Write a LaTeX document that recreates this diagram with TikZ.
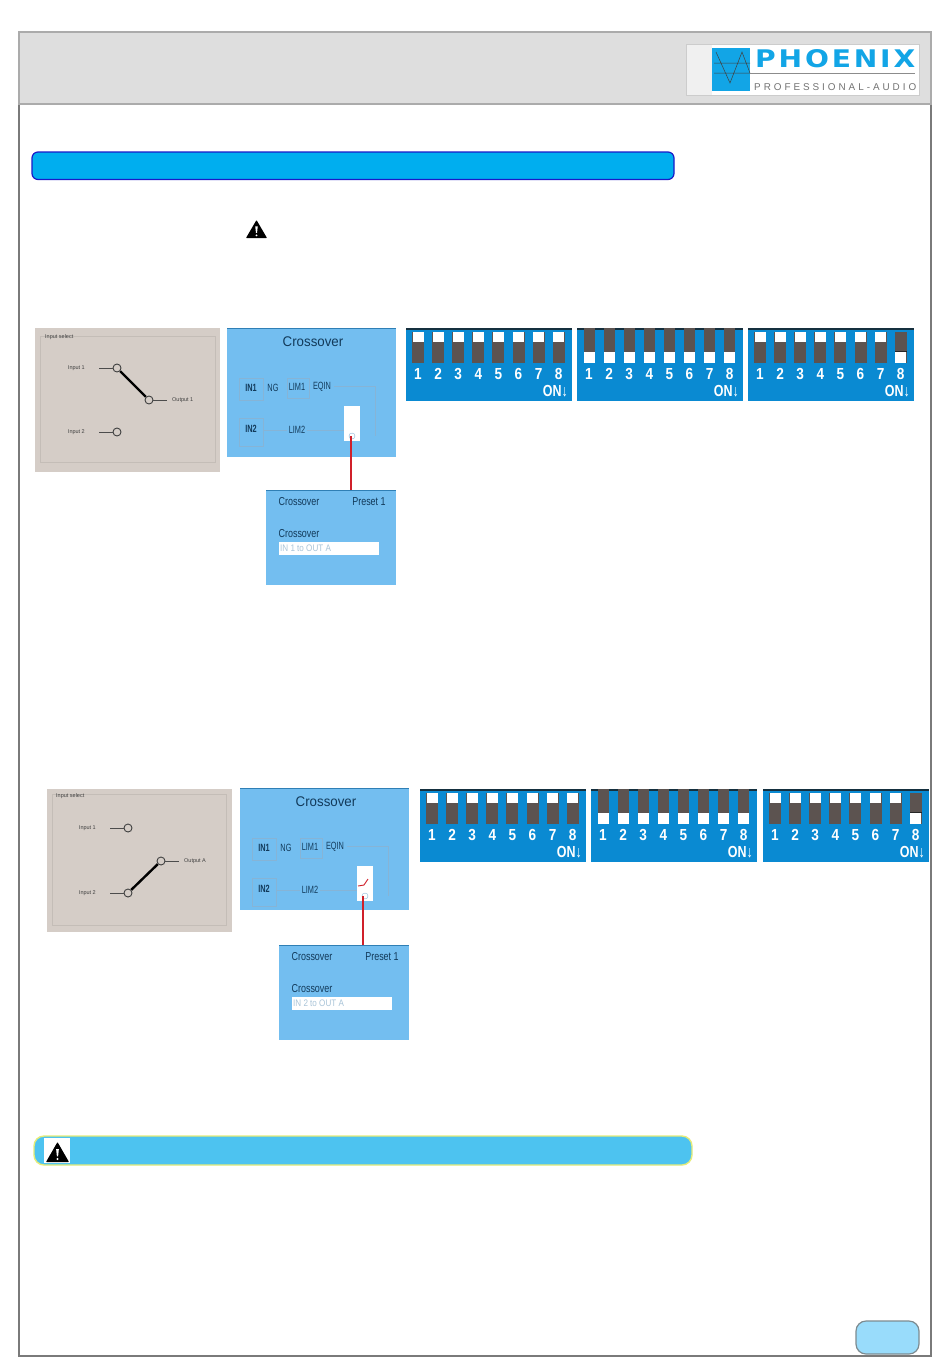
\documentclass[tikz,border=0pt]{standalone}
\usepackage{graphicx}
\usepackage{fontspec}
\setmainfont{Liberation Sans}
\newfontfamily\logofont{DejaVu Sans}
\definecolor{pageline}{HTML}{7A7A7A}
\definecolor{headfill}{HTML}{DEDEDE}
\definecolor{headline}{HTML}{ABABAB}
\definecolor{logoblue}{HTML}{12A5E6}
\definecolor{barblue}{HTML}{00AEEF}
\definecolor{barline}{HTML}{1A1AC8}
\definecolor{warnblue}{HTML}{4DC3F0}
\definecolor{warnline}{HTML}{E6EC78}
\definecolor{pillfill}{HTML}{99DCFB}
\definecolor{pillline}{HTML}{7D8B90}
\definecolor{dipblue}{HTML}{0A8AD2}
\definecolor{dipdark}{HTML}{5C5350}
\definecolor{dipedge}{HTML}{15303F}
\definecolor{scrblue}{HTML}{73BEF0}
\definecolor{scredge}{HTML}{2F7FB5}
\definecolor{scrline}{HTML}{86B4D6}
\definecolor{scrtext}{HTML}{123A5A}
\definecolor{grayscr}{HTML}{D5CDC7}
\definecolor{grayframe}{HTML}{C4BDB7}
\definecolor{fieldtext}{HTML}{A9C4D8}
\definecolor{linkred}{HTML}{D0202A}
\newcommand{\slim}[2]{\scalebox{#1}[1]{#2}}
\tikzset{
  x=1pt,y=-1pt,
  box/.style={draw=none,inner sep=0pt,outer sep=0pt,anchor=north west},
  scrlabel/.style={inner sep=0pt,text=scrtext,font=\fontsize{10.5}{10.5}\selectfont},
  scrbig/.style={inner sep=0pt,text=scrtext,font=\fontsize{14}{14}\selectfont},
  tinylabel/.style={inner sep=0pt,text=black!75,font=\fontsize{5.5}{5.5}\selectfont},
  pivot/.style={circle,draw=black!75,fill=grayscr,line width=.9pt,minimum size=8pt,inner sep=0pt},
  stub/.style={draw=black!70,line width=1pt},
  arm/.style={draw=black,line width=2.4pt},
  redlink/.style={color=linkred,line width=1.2pt},
  faint/.style={draw=scrline,line width=.4pt},
  digit/.style={inner sep=0pt,text=white,font=\fontsize{16}{16}\selectfont\bfseries},
}
% rectangle node from pixel corners
\newcommand{\pxbox}[6]{\node[box,#6,minimum width={(#4)-(#2)},minimum height={(#5)-(#3)}] (#1) at (#2,#3) {};}
% DIP panel: name, left, top, states (0 up, 1 down full, 2 down short)
\newcommand{\dippanel}[4]{%
  \pxbox{#1}{#2}{#3}{#2+166}{#3+73}{fill=dipblue}
  \fill[dipedge] (#2,#3) rectangle (#2+166,#3+1.5);
  \foreach \s [count=\i] in {#4}{
    \pgfmathsetmacro{\cx}{#2+12+20.1*(\i-1)}
    \ifnum\s=0
      \fill[dipdark] (\cx-6,#3+4) rectangle (\cx+6,#3+35);
      \fill[white] (\cx-5.5,#3+4) rectangle (\cx+5.5,#3+14);
    \fi
    \ifnum\s=1
      \fill[dipdark] (\cx-5.5,#3+0) rectangle (\cx+5.5,#3+35);
      \fill[white] (\cx-5.5,#3+24) rectangle (\cx+5.5,#3+35);
    \fi
    \ifnum\s=2
      \fill[dipdark] (\cx-6,#3+4) rectangle (\cx+6,#3+35);
      \fill[black!85] (\cx-6,#3+22.5) rectangle (\cx+6,#3+24);
      \fill[white] (\cx-5.5,#3+24) rectangle (\cx+5.5,#3+35);
    \fi
    \node[digit,anchor=base] (#1-d\i) at (\cx,#3+51) {\slim{.85}{\i}};
  }
  \node[digit,anchor=base east] (#1-on) at (#2+162,#3+68) {\slim{.78}{ON↓}};
}
% warning triangle: name, centre x, top y, half width, height
\newcommand{\warn}[5]{%
  \coordinate (#1) at (#2,#3);
  \fill[black,rounded corners=.6pt] (#2,#3) -- (#2+#4,#3+#5) -- (#2-#4,#3+#5) -- cycle;
  \fill[white] (#2-.12*#4,#3+.35*#5) -- (#2+.12*#4,#3+.35*#5) -- (#2+.05*#4,#3+.72*#5) -- (#2-.05*#4,#3+.72*#5) -- cycle;
  \fill[white] (#2,#3+.85*#5) circle (.1*#4);
}
% crossover screens: suffix, left, top, bottom, lower left, lower top, line x, field text
\newcommand{\xover}[8]{%
  \pxbox{top#1}{#2}{#3}{#2+169}{#4}{fill=scrblue}
  \fill[scredge] (#2,#3) rectangle (#2+169,#3+1.2);
  \node[scrbig] (title#1) at (#2+86,#3+14) {\slim{.95}{Crossover}};
  \draw[faint] (#2+12,#3+50) rectangle (#2+36,#3+72);
  \draw[faint] (#2+12,#3+90) rectangle (#2+36,#3+118);
  \draw[faint] (#2+60,#3+50) rectangle (#2+82,#3+70);
  \draw[faint] (#2+36,#3+102) -- (#2+60,#3+102);
  \draw[faint] (#2+80,#3+102) -- (#2+117,#3+102);
  \draw[faint] (#2+107,#3+58) -- (#2+148,#3+58) -- (#2+148,#3+108);
  \node[scrlabel] (in1#1) at (#2+24,#3+60) {\slim{.7}{\bfseries IN1}};
  \node[scrlabel] (ng#1) at (#2+46,#3+60) {\slim{.7}{NG}};
  \node[scrlabel] (lima#1) at (#2+70,#3+59) {\slim{.7}{LIM1}};
  \node[scrlabel] (eq#1) at (#2+95,#3+59) {\slim{.7}{EQIN}};
  \node[scrlabel] (in2#1) at (#2+24,#3+101) {\slim{.7}{\bfseries IN2}};
  \node[scrlabel] (limb#1) at (#2+70,#3+102) {\slim{.7}{LIM2}};
  \pxbox{sel#1}{#2+117}{#3+78}{#2+133}{#3+113}{fill=white}
  \draw[faint] (#2+125,#3+108) circle (3);
  \pxbox{low#1}{#5}{#6}{#5+130}{#6+94.5}{fill=scrblue}
  \fill[scredge] (#5,#6) rectangle (#5+130,#6+1.2);
  \node[scrlabel,font=\fontsize{11.5}{11.5}\selectfont] (ca#1) at (#5+33,#6+12) {\slim{.78}{Crossover}};
  \node[scrlabel,font=\fontsize{11.5}{11.5}\selectfont] (pr#1) at (#5+103,#6+12) {\slim{.78}{Preset 1}};
  \node[scrlabel,font=\fontsize{11.5}{11.5}\selectfont] (cb#1) at (#5+33,#6+44) {\slim{.78}{Crossover}};
  \pxbox{field#1}{#5+13}{#6+52}{#5+113}{#6+65}{fill=white}
  \node[scrlabel,anchor=west,text=fieldtext,font=\fontsize{9.5}{10}\selectfont] (ft#1) at (#5+14,#6+58.5) {\slim{.85}{#8}};
  \coordinate (linka#1) at (#7,#3+108);
  \coordinate (linkb#1) at (#7,#6);
  \draw[redlink] (linka#1) -- (linkb#1);
}
\begin{document}
\begin{tikzpicture}
\useasboundingbox (0,0) rectangle (950,1369);
\fill[white] (0,0) rectangle (950,1369);
% page frame
\node[box,draw=pageline,line width=1.2pt,minimum width=912pt,minimum height=1324pt] (page) at (19,32) {};
\node[box,fill=headfill,draw=headline,line width=2pt,minimum width=912pt,minimum height=72pt] (header) at (19,32) {};
% logo
\pxbox{logo}{686}{44}{919}{95}{fill=white,draw=black!20,line width=.8pt}
\fill[black!6] (686.5,44.5) rectangle (712,94.5);
\pxbox{logosq}{712}{48}{750}{91}{fill=logoblue}
\draw[black!75,line width=.5pt] (714,63) -- (750,63) (714,73) -- (750,73) (716,52) -- (730,83) -- (742,52) -- (750,73);
\draw[black!45,line width=.7pt] (750,73) -- (915,73);
\node[inner sep=0pt,anchor=west,text=logoblue] (phoenix) at (755,58.5) {\resizebox{160pt}{18pt}{\logofont\addfontfeature{LetterSpace=10}\bfseries PHOENIX}};
\node[inner sep=0pt,anchor=west,text=black!55] (proaudio) at (754,87.5) {\resizebox{162pt}{!}{\addfontfeature{LetterSpace=30}PROFESSIONAL-AUDIO}};
% section bar
\node[box,fill=barblue,draw=barline,line width=1.2pt,rounded corners=6pt,minimum width=642pt,minimum height=27.5pt] (bar) at (32,152) {};
\warn{warna}{256.5}{220}{10.5}{18}
% row 1
\pxbox{sw}{35}{328}{220}{472}{fill=grayscr}
\draw[grayframe,line width=1pt] (40,336) rectangle (215,462);
\node[tinylabel,anchor=west] (swt) at (45,337) {Input select};
\node[tinylabel,anchor=east] (swi) at (85,368) {Input 1};
\node[tinylabel,anchor=east] (swj) at (85,432) {Input 2};
\node[tinylabel,anchor=west] (swo) at (172,400) {Output 1};
\node[pivot] (swa) at (117,368) {};
\node[pivot] (swb) at (117,432) {};
\node[pivot] (swc) at (149,400) {};
\draw[stub] (swa.west) -- ++(-14,0);
\draw[stub] (swb.west) -- ++(-14,0);
\draw[stub] (swc.east) -- ++(14,0);
\draw[arm] (swa) -- (swc);
\xover{A}{227}{328}{457}{266}{490}{351}{IN 1 to OUT A}
\dippanel{da}{406}{328}{0,0,0,0,0,0,0,0}
\dippanel{db}{577}{328}{1,1,1,1,1,1,1,1}
\dippanel{dc}{748}{328}{0,0,0,0,0,0,0,2}
% row 2
\pxbox{tw}{47}{789}{232}{932}{fill=grayscr}
\draw[grayframe,line width=1pt] (52,794) rectangle (226,925);
\node[tinylabel,anchor=west] (twt) at (56,796) {Input select};
\node[tinylabel,anchor=east] (twi) at (96,828) {Input 1};
\node[tinylabel,anchor=east] (twj) at (96,893) {Input 2};
\node[tinylabel,anchor=west] (two) at (184,861) {Output A};
\node[pivot] (twa) at (128,828) {};
\node[pivot] (twb) at (128,893) {};
\node[pivot] (twc) at (161,861) {};
\draw[stub] (twa.west) -- ++(-14,0);
\draw[stub] (twb.west) -- ++(-14,0);
\draw[stub] (twc.east) -- ++(14,0);
\draw[arm] (twb) -- (twc);
\xover{B}{240}{788}{910}{279}{945}{363}{IN 2 to OUT A}
\draw[linkred,line width=.9pt] (358,886) -- (364,885) -- (368,879);
\dippanel{dd}{420}{789}{0,0,0,0,0,0,0,0}
\dippanel{de}{591}{789}{1,1,1,1,1,1,1,1}
\dippanel{df}{763}{789}{0,0,0,0,0,0,0,2}
% warning bar
\node[box,fill=warnblue,draw=warnline,line width=1.4pt,rounded corners=10pt,minimum width=658pt,minimum height=29pt] (wbar) at (34,1136) {};
\pxbox{wsq}{44}{1138}{70}{1163}{fill=white}
\warn{warnb}{57.5}{1142}{11.5}{20}
% page number pill
\node[box,fill=pillfill,draw=pillline,line width=1.2pt,rounded corners=10pt,minimum width=63pt,minimum height=33pt] (pill) at (856,1321) {};
\end{tikzpicture}
\end{document}
